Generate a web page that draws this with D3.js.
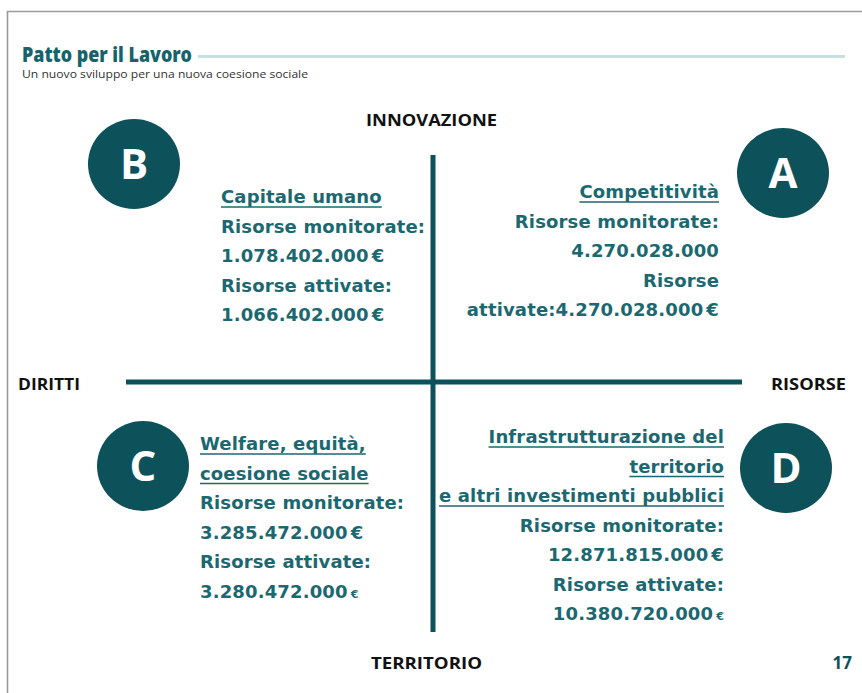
<!DOCTYPE html>
<html>
<head>
<meta charset="utf-8">
<script src="https://cdn.jsdelivr.net/npm/d3@7"></script>
<style>
  body { margin: 0; background: #fff; }
  svg { display: block; }
</style>
</head>
<body>
<svg width="862" height="693"></svg>
<script>
// quadrant data
const letters = ["A", "B", "C", "D"]
// side of each quadrant: x -1 = DIRITTI, +1 = RISORSE ; y +1 = INNOVAZIONE, -1 = TERRITORIO
const sideX = [1, -1, -1, 1]
const sideY = [1, 1, -1, -1]
const headings = [
    ["Competitività"],
    ["Capitale umano"],
    ["Welfare, equità,", "coesione sociale"],
    ["Infrastrutturazione del", "territorio", "e altri investimenti pubblici"]
]
const monitored = [4270028000, 1078402000, 3285472000, 12871815000]
const activated = [4270028000, 1066402000, 3280472000, 10380720000]
const axisLabels = ["INNOVAZIONE", "DIRITTI", "RISORSE", "TERRITORIO"]
const title = "Patto per il Lavoro"
const subtitle = "Un nuovo sviluppo per una nuova coesione sociale"
const pageNumber = "17"

const teal = "#0d525a"
const textTeal = "#1b6870"

const it = d3.formatLocale({decimal: ",", thousands: ".", grouping: [3], currency: ["", "€"]})
const fmt = it.format(",d")

const svg = d3.select("svg")

// page frame
svg.append("path")
    .attr("d", "M7.5,693 V11.5 H862")
    .attr("fill", "none")
    .attr("stroke", "#9a9a9a")
    .attr("stroke-width", 1.6)

// header
svg.append("text")
    .attr("x", 22).attr("y", 62)
    .attr("font-family", "Liberation Sans Narrow, Open Sans, sans-serif")
    .attr("font-weight", 800)
    .attr("font-size", 21)
    .attr("fill", "#16636b")
    .attr("textLength", 170).attr("lengthAdjust", "spacingAndGlyphs")
    .text(title)

svg.append("line")
    .attr("x1", 198).attr("x2", 845)
    .attr("y1", 56.5).attr("y2", 56.5)
    .attr("stroke", "#c6dfe0").attr("stroke-width", 3)

svg.append("text")
    .attr("x", 22).attr("y", 78)
    .attr("font-family", "Liberation Sans Narrow, Open Sans, sans-serif")
    .attr("font-size", 11.5)
    .attr("fill", "#333")
    .attr("textLength", 286).attr("lengthAdjust", "spacingAndGlyphs")
    .text(subtitle)

// axes
const x = d3.scaleLinear().domain([-1, 0, 1]).range([126, 433, 742])
const y = d3.scaleLinear().domain([-1, 0, 1]).range([632, 382, 155])

const axes = svg.append("g").attr("stroke", teal).attr("stroke-width", 5)
axes.append("line").attr("x1", x(-1)).attr("x2", x(1)).attr("y1", y(0)).attr("y2", y(0))
axes.append("line").attr("x1", x(0)).attr("x2", x(0)).attr("y1", y(1)).attr("y2", y(-1))

const labelFont = "Open Sans, sans-serif"
const labelPos = [
    {x: 366, y: 126, w: 131},
    {x: 18, y: 390, w: 62},
    {x: 771, y: 390, w: 75},
    {x: 371, y: 669, w: 111}
]
svg.append("g").selectAll("text")
    .data(axisLabels)
    .join("text")
    .attr("x", (d, i) => labelPos[i].x)
    .attr("y", (d, i) => labelPos[i].y)
    .attr("textLength", (d, i) => labelPos[i].w)
    .attr("lengthAdjust", "spacingAndGlyphs")
    .attr("font-family", labelFont)
    .attr("font-weight", 700)
    .attr("font-size", 16)
    .attr("fill", "#111")
    .text(d => d)

svg.append("text")
    .attr("x", 852).attr("y", 669)
    .attr("text-anchor", "end")
    .attr("font-family", labelFont)
    .attr("font-weight", 700)
    .attr("font-size", 17)
    .attr("fill", teal)
    .text(pageNumber)

// quadrant layout: circle centre and text anchor, per side
const circlePos = {"1,1": [783, 173], "-1,1": [134, 164], "-1,-1": [143, 466], "1,-1": [786, 468]}
const textPos = {"1,1": [719, 198], "-1,1": [221, 203], "-1,-1": [200, 450], "1,-1": [724, 443]}

const lineH = 29.5

const quads = svg.append("g").selectAll("g")
    .data(letters)
    .join("g")

quads.append("ellipse")
    .attr("cx", (d, i) => circlePos[sideX[i] + "," + sideY[i]][0])
    .attr("cy", (d, i) => circlePos[sideX[i] + "," + sideY[i]][1])
    .attr("rx", 46).attr("ry", 45)
    .attr("fill", teal)

quads.append("text")
    .attr("x", (d, i) => circlePos[sideX[i] + "," + sideY[i]][0])
    .attr("y", (d, i) => circlePos[sideX[i] + "," + sideY[i]][1] + 15)
    .attr("text-anchor", "middle")
    .attr("font-family", "Open Sans, sans-serif")
    .attr("font-weight", 700)
    .attr("font-size", 42)
    .attr("fill", "#fff")
    .text(d => d)

function blockLines(i) {
    const lines = headings[i].map(t => ({t: t, head: true}))
    if (i === 0) {
        lines.push({t: "Risorse monitorate:"})
        lines.push({t: fmt(monitored[i])})
        lines.push({t: "Risorse"})
        lines.push({t: "attivate:" + fmt(activated[i]), euro: "big"})
    } else {
        lines.push({t: "Risorse monitorate:"})
        lines.push({t: fmt(monitored[i]), euro: "big"})
        lines.push({t: "Risorse attivate:"})
        lines.push({t: fmt(activated[i]), euro: i === 1 ? "big" : "small"})
    }
    return lines
}

quads.each(function (d, i) {
    const key = sideX[i] + "," + sideY[i]
    const [tx, ty] = textPos[key]
    const anchor = sideX[i] > 0 ? "end" : "start"
    const g = d3.select(this).append("g")
        .attr("font-family", "DejaVu Sans, Verdana, sans-serif")
        .attr("font-weight", 700)
        .attr("font-size", 18)
        .attr("fill", textTeal)

    blockLines(i).forEach((ln, j) => {
        const t = g.append("text")
            .attr("x", tx)
            .attr("y", ty + j * lineH)
            .attr("text-anchor", anchor)
            .attr("letter-spacing", 0.15)
        t.append("tspan").text(ln.t)
        if (ln.euro) {
            t.append("tspan")
                .attr("dx", 3)
                .attr("font-size", ln.euro === "big" ? 18 : 11)
                .text("€")
        }
        if (ln.head) {
            const b = t.node().getBBox()
            g.append("line")
                .attr("x1", b.x).attr("x2", b.x + b.width)
                .attr("y1", ty + j * lineH + 4).attr("y2", ty + j * lineH + 4)
                .attr("stroke", textTeal).attr("stroke-width", 1.6)
        }
    })
})
</script>
</body>
</html>
